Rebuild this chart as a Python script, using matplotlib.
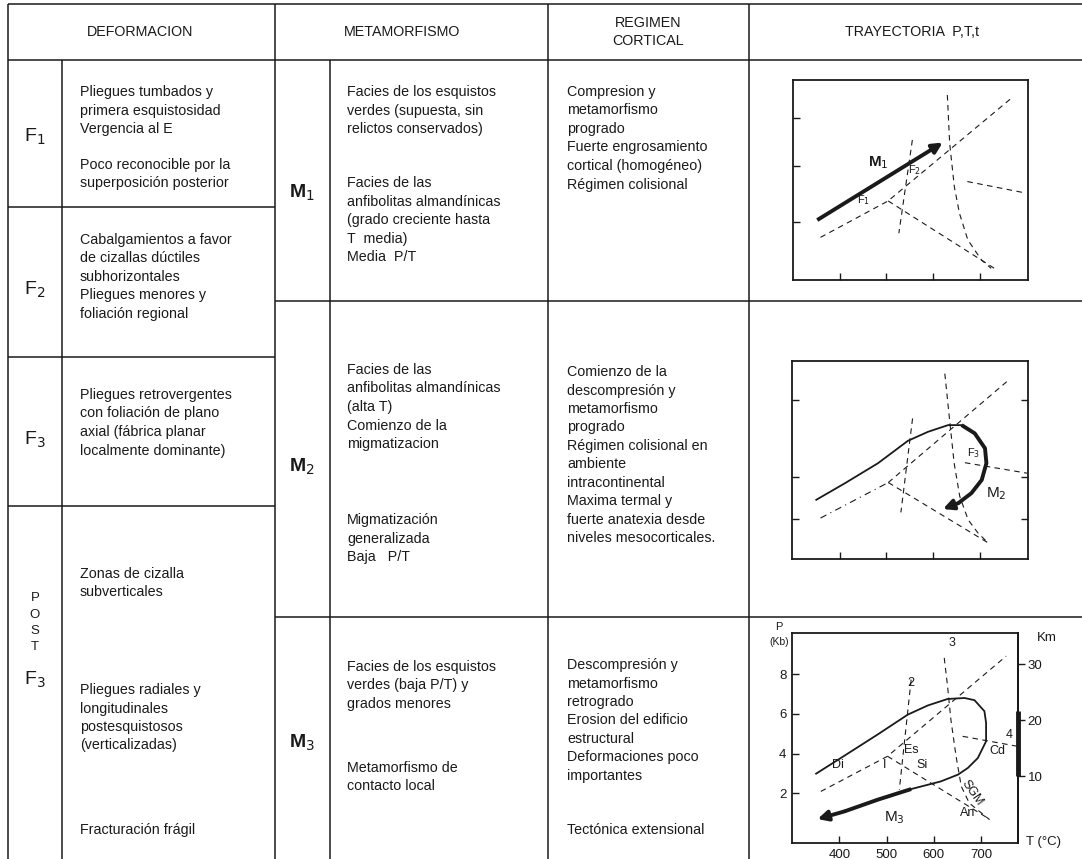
import matplotlib
matplotlib.use('Agg')
import matplotlib.pyplot as plt

W, H = 1082, 859
plt.rcParams['font.family'] = ['Liberation Sans', 'DejaVu Sans']
INK = '#1a1a1a'

# ---------------- table text ----------------
headers = ["DEFORMACION", "METAMORFISMO", "REGIMEN\nCORTICAL", "TRAYECTORIA  P,T,t"]

f_labels = [r"F$_1$", r"F$_2$", r"F$_3$", r"F$_3$"]
m_labels = [r"M$_1$", r"M$_2$", r"M$_3$"]

f1_a = ["Pliegues tumbados y", "primera esquistosidad", "Vergencia al E"]
f1_b = ["Poco reconocible por la", "superposición posterior"]
f2_txt = ["Cabalgamientos a favor", "de cizallas dúctiles", "subhorizontales",
          "Pliegues menores y", "foliación regional"]
f3_txt = ["Pliegues retrovergentes", "con foliación de plano",
          "axial (fábrica planar", "localmente dominante)"]
post_a = ["Zonas de cizalla", "subverticales"]
post_b = ["Pliegues radiales y", "longitudinales", "postesquistosos", "(verticalizadas)"]
post_c = ["Fracturación frágil"]

m1_a = ["Facies de los esquistos", "verdes (supuesta, sin", "relictos conservados)"]
m1_b = ["Facies de las", "anfibolitas almandínicas", "(grado creciente hasta",
        "T  media)", "Media  P/T"]
m2_a = ["Facies de las", "anfibolitas almandínicas", "(alta T)",
        "Comienzo de la", "migmatizacion"]
m2_b = ["Migmatización", "generalizada", "Baja   P/T"]
m3_a = ["Facies de los esquistos", "verdes (baja P/T) y", "grados menores"]
m3_b = ["Metamorfismo de", "contacto local"]

r1_txt = ["Compresion y", "metamorfismo", "progrado", "Fuerte engrosamiento",
          "cortical (homogéneo)", "Régimen colisional"]
r2_txt = ["Comienzo de la", "descompresión y", "metamorfismo", "progrado",
          "Régimen colisional en", "ambiente", "intracontinental",
          "Maxima termal y", "fuerte anatexia desde", "niveles mesocorticales."]
r3_a = ["Descompresión y", "metamorfismo", "retrogrado", "Erosion del edificio",
        "estructural", "Deformaciones poco", "importantes"]
r3_b = ["Tectónica extensional"]

# ---------------- P-T diagram data (T in °C, P in kb) ----------------
# panel 1 (M1)
p1_m1_T = [352, 600, 621]
p1_m1_P = [2.06, 4.82, 5.06]
p1_a_T = [359, 504, 768]
p1_a_P = [1.39, 2.80, 6.77]
p1_c_T = [504, 732]
p1_c_P = [2.80, 0.19]
p1_l2_T = [556, 527]
p1_l2_P = [5.16, 1.55]
p1_l3_T = [631, 636, 646, 657, 675, 704, 725]
p1_l3_P = [6.90, 5.03, 3.35, 2.32, 1.29, 0.52, 0.19]
p1_l4_T = [674, 795]
p1_l4_P = [3.55, 3.12]

# panel 2 (M2)
p2_thin_T = [350, 411, 482, 546, 589, 632, 661]
p2_thin_P = [2.26, 2.90, 3.68, 4.55, 4.90, 5.16, 5.16]
p2_thick_T = [661, 689, 711, 714, 704, 682, 654, 621]
p2_thick_P = [5.16, 4.84, 4.26, 3.68, 3.03, 2.52, 2.13, 1.90]
p2_a_T = [359, 504, 761]
p2_a_P = [1.55, 2.93, 6.90]
p2_c_T = [504, 721]
p2_c_P = [2.93, 0.55]
p2_l2_T = [556, 531]
p2_l2_P = [5.42, 1.77]
p2_l3_T = [625, 636, 645, 657, 675, 696, 718]
p2_l3_P = [7.16, 5.23, 3.68, 2.39, 1.48, 0.97, 0.58]
p2_l4_T = [668, 802]
p2_l4_P = [3.70, 3.29]

# panel 3 (M3)
p3_thin_T = [351, 411, 481, 545, 587, 629, 665, 686, 707, 710.5, 710.5,
             693, 672, 651, 615, 552]
p3_thin_P = [2.98, 3.89, 4.96, 5.97, 6.43, 6.76, 6.81, 6.70, 6.14, 5.55, 4.62,
             3.77, 3.27, 2.93, 2.59, 2.20]
p3_thick_T = [552, 481, 411, 354]
p3_thick_P = [2.20, 1.66, 1.07, 0.68]
p3_a_T = [361, 502, 753]
p3_a_P = [2.08, 3.86, 8.93]
p3_c_T = [502, 714]
p3_c_P = [3.86, 0.73]
p3_l2_T = [552, 527]
p3_l2_P = [7.74, 2.17]
p3_l3_T = [622, 629, 636, 647, 658, 675, 718]
p3_l3_P = [8.84, 7.41, 5.72, 3.86, 2.34, 1.49, 0.65]
p3_l4_T = [661, 778]
p3_l4_P = [4.87, 4.36]
km_per_kb = 3.52

fig = plt.figure(figsize=(W / 100, H / 100), dpi=100)
bg = fig.add_axes([0, 0, 1, 1])
bg.set_xlim(0, W)
bg.set_ylim(H, 0)
bg.axis('off')

# table grid
lw_grid = 1.1
bg.hlines([4, 60], 8, W, color=INK, lw=lw_grid)
bg.hlines([207, 357, 506], 8, 275, color=INK, lw=lw_grid)
bg.hlines([301, 617], 275, W, color=INK, lw=lw_grid)
bg.vlines([8, 275, 548, 749], 4, H, color=INK, lw=lw_grid)
bg.vlines([62, 330], 60, H, color=INK, lw=lw_grid)

# headers
for (x, y), t in zip([(140, 32), (402, 32), (648, 32), (912, 32)], headers):
    bg.text(x, y, t, ha='center', va='center', fontsize=10.3, color=INK, linespacing=1.35)

# row labels
for (x, y), t in zip([(35, 137), (35, 290), (35, 440), (35, 680)], f_labels):
    bg.text(x, y, t, ha='center', va='center', fontsize=14, color=INK)
for i, ch in enumerate("POST"):
    bg.text(35, 598 + i * 16.5, ch, ha='center', va='center', fontsize=9.5, color=INK)
for (x, y), t in zip([(302, 193), (302, 467), (302, 743)], m_labels):
    bg.text(x, y, t, ha='center', va='center', fontsize=14, fontweight='bold', color=INK)

LS = 18.5
blocks = [(80, 92, f1_a), (80, 165, f1_b), (80, 240, f2_txt), (80, 395, f3_txt),
          (80, 574, post_a), (80, 690, post_b), (80, 830, post_c),
          (347, 92, m1_a), (347, 183, m1_b), (347, 370, m2_a), (347, 520, m2_b),
          (347, 667, m3_a), (347, 768, m3_b),
          (567, 92, r1_txt), (567, 372, r2_txt), (567, 665, r3_a), (567, 830, r3_b)]
for x, y0, lines in blocks:
    for k, line in enumerate(lines):
        bg.text(x, y0 + k * LS, line, ha='left', va='center', fontsize=10.3, color=INK)


def inset(x0, y0, x1, y1):
    ax = fig.add_axes([x0 / W, 1 - y1 / H, (x1 - x0) / W, (y1 - y0) / H])
    ax.patch.set_alpha(0)
    for s in ax.spines.values():
        s.set_linewidth(1.3)
        s.set_color(INK)
    ax.tick_params(direction='in', length=5, width=1, colors=INK,
                   labelbottom=False, labelleft=False)
    return ax


dash = dict(color=INK, lw=0.8, dashes=(5, 4))
thick = dict(color=INK, lw=2.8, solid_capstyle='butt')


def arrow(ax, T, P, lw=2.8):
    ax.annotate('', xy=(T[-1], P[-1]), xytext=(T[-2], P[-2]),
                arrowprops=dict(arrowstyle='-|>', lw=lw, color=INK,
                                mutation_scale=15, shrinkA=0, shrinkB=0))


# ---- panel 1 ----
ax1 = inset(793, 80, 1028, 280)
ax1.set_xlim(300, 804)
ax1.set_ylim(-0.26, 7.48)
ax1.set_xticks([400, 500, 600, 700])
ax1.set_yticks([2.0, 4.17, 6.0])
for T, P in [(p1_a_T, p1_a_P), (p1_c_T, p1_c_P), (p1_l2_T, p1_l2_P),
             (p1_l3_T, p1_l3_P), (p1_l4_T, p1_l4_P)]:
    ax1.plot(T, P, **dash)
ax1.plot(p1_m1_T[:2], p1_m1_P[:2], **thick)
arrow(ax1, p1_m1_T[1:], p1_m1_P[1:])
ax1.text(482, 4.3, r"M$_1$", fontsize=11, fontweight='bold', ha='center', va='center', color=INK)
ax1.text(560, 4.0, r"F$_2$", fontsize=8, ha='center', va='center', color=INK)
ax1.text(452, 2.85, r"F$_1$", fontsize=8, ha='center', va='center', color=INK)

# ---- panel 2 ----
ax2 = inset(792, 361, 1028, 559)
ax2.set_xlim(298, 803)
ax2.set_ylim(-0.04, 7.65)
ax2.set_xticks([400, 500, 600, 700])
ax2.set_yticks([1.51, 3.14, 6.13])
ax2.tick_params(right=True)
for T, P in [(p2_c_T, p2_c_P), (p2_l2_T, p2_l2_P), (p2_l3_T, p2_l3_P), (p2_l4_T, p2_l4_P)]:
    ax2.plot(T, P, **dash)
ax2.plot(p2_a_T[:2], p2_a_P[:2], color=INK, lw=0.8, dashes=(6, 4, 1, 4))
ax2.plot(p2_a_T[1:], p2_a_P[1:], **dash)
ax2.plot(p2_thin_T, p2_thin_P, color=INK, lw=1.3)
ax2.plot(p2_thick_T[:-1], p2_thick_P[:-1], **thick)
arrow(ax2, p2_thick_T, p2_thick_P)
ax2.text(686, 4.06, r"F$_3$", fontsize=8, ha='center', va='center', color=INK)
ax2.text(736, 2.5, r"M$_2$", fontsize=11, ha='center', va='center', color=INK)

# ---- panel 3 ----
ax3 = inset(792, 633, 1018, 843)
ax3.set_xlim(300, 778)
ax3.set_ylim(-0.53, 10.1)
ax3.set_xticks([400, 500, 600, 700])
ax3.set_yticks([2, 4, 6, 8])
ax3.tick_params(labelbottom=True, labelleft=True, labelsize=9.5, pad=4)
sec = ax3.secondary_yaxis('right', functions=(lambda p: p * km_per_kb,
                                               lambda k: k / km_per_kb))
sec.set_yticks([10, 20, 30])
sec.tick_params(direction='out', length=5, width=1, colors=INK, labelsize=9.5, pad=2)
sec.spines['right'].set_linewidth(1.3)
for T, P in [(p3_a_T, p3_a_P), (p3_c_T, p3_c_P), (p3_l2_T, p3_l2_P),
             (p3_l3_T, p3_l3_P), (p3_l4_T, p3_l4_P)]:
    ax3.plot(T, P, **dash)
ax3.plot(p3_thin_T, p3_thin_P, color=INK, lw=1.3)
ax3.plot(p3_thick_T[:-1], p3_thick_P[:-1], **thick)
arrow(ax3, p3_thick_T, p3_thick_P)
ax3.plot([778, 778], [2.84, 6.14], color=INK, lw=3.5, clip_on=False, solid_capstyle='butt')
lbl = dict(fontsize=9, ha='center', va='center', color=INK)
ax3.text(552, 7.57, "2", **lbl)
ax3.text(638, 9.6, "3", **lbl)
ax3.text(553, 4.2, "Es", **lbl)
ax3.text(397, 3.44, "Di", **lbl)
ax3.text(495, 3.44, "I", **lbl)
ax3.text(576, 3.44, "Si", **lbl)
ax3.text(681, 2.0, "SGM", rotation=-55, **lbl)
ax3.text(672, 0.99, "An", **lbl)
ax3.text(735, 4.11, "Cd", **lbl)
ax3.text(760, 4.96, "4", **lbl)
ax3.text(516, 0.73, r"M$_3$", fontsize=11, ha='center', va='center', color=INK)

bg.text(779, 627, "P", fontsize=8, ha='center', va='center', color=INK)
bg.text(779, 642, "(Kb)", fontsize=7.5, ha='center', va='center', color=INK)
bg.text(1047, 638, "Km", fontsize=9.5, ha='center', va='center', color=INK)
bg.text(1044, 842, "T (°C)", fontsize=9.5, ha='center', va='center', color=INK)

fig.savefig('out.png', dpi=100, facecolor='white')
